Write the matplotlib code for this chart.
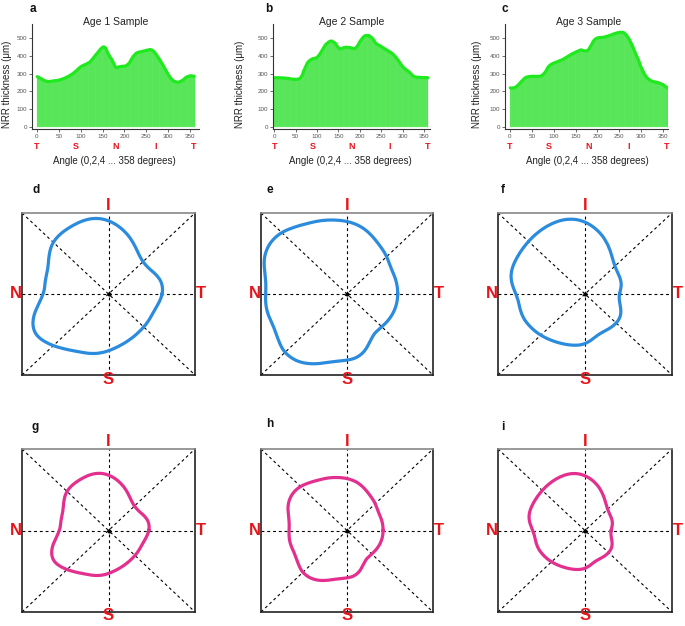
import numpy as np
import matplotlib
matplotlib.use('Agg')
import matplotlib.pyplot as plt
import matplotlib.transforms as mtransforms

plt.rcParams['font.family'] = ['Liberation Sans', 'DejaVu Sans']

# NRR thickness (um) every 2 degrees, 0..358
angles = np.arange(0, 360, 2)

age1 = [283, 281, 278, 275, 272, 270, 267, 264, 261, 259,
        258, 257, 256, 256, 256, 256, 257, 258, 259, 259,
        260, 261, 261, 262, 263, 263, 265, 267, 269, 270,
        272, 274, 276, 279, 281, 283, 286, 289, 292, 295,
        298, 302, 306, 310, 314, 318, 323, 328, 332, 336,
        340, 343, 345, 348, 350, 352, 354, 357, 360, 362,
        365, 370, 376, 382, 389, 395, 401, 407, 413, 419,
        425, 431, 437, 442, 447, 450, 451, 448, 444, 435,
        420, 412, 403, 394, 387, 380, 370, 360, 348, 340,
        335, 334, 336, 338, 339, 340, 341, 341, 342, 342,
        342, 344, 347, 351, 355, 360, 368, 377, 386, 394,
        400, 406, 411, 415, 418, 420, 421, 422, 423, 424,
        425, 427, 428, 429, 431, 432, 433, 434, 435, 436,
        434, 432, 429, 424, 419, 413, 406, 399, 392, 384,
        376, 368, 360, 351, 342, 333, 325, 317, 308, 299,
        290, 283, 276, 270, 265, 261, 258, 256, 254, 253,
        252, 252, 253, 255, 258, 260, 263, 267, 272, 276,
        280, 282, 284, 286, 287, 288, 288, 287, 286, 285]

age2 = [277, 277, 277, 277, 277, 277, 277, 276, 276, 276,
        276, 275, 275, 274, 274, 273, 273, 272, 271, 270,
        270, 269, 269, 268, 268, 268, 268, 269, 270, 272,
        276, 282, 290, 302, 316, 326, 337, 348, 358, 366,
        370, 374, 378, 381, 383, 385, 386, 387, 388, 390,
        394, 400, 405, 412, 420, 428, 436, 444, 452, 460,
        466, 470, 474, 478, 481, 483, 484, 483, 480, 477,
        475, 470, 463, 455, 448, 444, 441, 440, 441, 443,
        445, 447, 448, 449, 449, 448, 448, 447, 447, 446,
        444, 443, 442, 441, 442, 446, 452, 458, 466, 476,
        484, 490, 497, 503, 508, 512, 514, 515, 515, 514,
        515, 512, 508, 504, 500, 494, 487, 479, 472, 468,
        465, 462, 460, 457, 454, 451, 448, 445, 442, 439,
        436, 433, 430, 427, 424, 421, 418, 415, 411, 406,
        401, 395, 390, 384, 377, 370, 364, 357, 350, 343,
        337, 332, 328, 324, 320, 317, 314, 310, 305, 300,
        295, 290, 286, 283, 282, 281, 280, 280, 279, 279,
        279, 279, 278, 278, 278, 278, 278, 277, 277, 277]

age3 = [220, 219, 219, 220, 220, 222, 224, 227, 231, 236,
        241, 246, 252, 257, 262, 267, 272, 276, 279, 281,
        282, 283, 284, 284, 285, 285, 285, 285, 285, 285,
        285, 285, 285, 285, 286, 287, 289, 293, 298, 303,
        309, 317, 326, 335, 341, 346, 350, 353, 356, 358,
        360, 362, 364, 366, 368, 370, 372, 374, 376, 378,
        380, 383, 386, 389, 392, 395, 398, 401, 404, 407,
        410, 412, 415, 417, 420, 422, 424, 426, 428, 431,
        433, 434, 432, 430, 429, 428, 428, 429, 431, 434,
        440, 448, 457, 466, 475, 484, 490, 495, 498, 500,
        502, 503, 503, 504, 504, 505, 505, 506, 507, 509,
        510, 511, 513, 515, 516, 518, 520, 522, 524, 525,
        527, 528, 530, 531, 532, 533, 533, 533, 533, 532,
        529, 525, 520, 514, 507, 500, 491, 481, 471, 461,
        449, 437, 426, 414, 402, 391, 380, 367, 352, 338,
        330, 319, 308, 299, 291, 283, 277, 272, 268, 265,
        262, 259, 257, 255, 254, 253, 252, 251, 250, 249,
        247, 245, 243, 241, 239, 236, 232, 228, 224, 220]

samples = [age1, age2, age3]
titles = ['Age 1 Sample', 'Age 2 Sample', 'Age 3 Sample']
sector_names = ['T', 'S', 'N', 'I', 'T']
sector_pos = [0, 90, 180, 270, 358]

W, H = 685, 626
fig = plt.figure(figsize=(W / 100, H / 100), dpi=100)


def rect(l, t, r, b):
    return [l / W, 1 - b / H, (r - l) / W, (b - t) / H]


def circ_smooth(v, n=9):
    # circular moving average, only to soften the drawn profile
    v = np.asarray(v, dtype=float)
    pad = np.concatenate([v[-n:], v, v[:n]])
    k = np.ones(n) / n
    return np.convolve(pad, k, mode='same')[n:-n]


green = '#35e235'
red = '#e8141c'
blue = '#2b8bdc'
pink = '#e3308f'

bar_boxes = [(32, 24, 199, 129), (273, 24, 430, 129), (505, 24, 668, 129)]
bar_xlims = [(-11, 370), (-3, 364), (-11, 361)]
ylabel_x = [7, 240, 477]

for k in range(3):
    ax = fig.add_axes(rect(*bar_boxes[k]))
    ax.bar(angles, samples[k], width=2, align='edge', color=green,
           edgecolor='#8ef08e', linewidth=0.2)
    ax.plot(angles + 1, samples[k], color='#1eea1e', lw=2.3, solid_capstyle='round')
    ax.set_xlim(*bar_xlims[k])
    ax.set_ylim(-12, 580)
    ax.set_xticks(range(0, 351, 50))
    ax.set_yticks(range(0, 501, 100))
    for s in ['top', 'right']:
        ax.spines[s].set_visible(False)
    for s in ['left', 'bottom']:
        ax.spines[s].set_color('#333333')
        ax.spines[s].set_linewidth(0.8)
    ax.tick_params(labelsize=4.5, labelcolor='#555555', length=2, width=0.6,
                   pad=1.5, color='#555555')
    trans = mtransforms.blended_transform_factory(ax.transData, ax.transAxes)
    ax.text(180, 1.02, titles[k], transform=trans, ha='center', va='center',
            fontsize=7.5, color='#222222')
    for name, pos in zip(sector_names, sector_pos):
        ax.text(pos, -0.17, name, transform=trans, ha='center', va='center',
                fontsize=6.5, fontweight='bold', color=red)
    ax.text(178, -0.30, 'Angle (0,2,4 ... 358 degrees)', transform=trans,
            ha='center', va='center', fontsize=7, color='#222222')
    fig.text(ylabel_x[k] / W, 1 - 84 / H, 'NRR thickness (\u03bcm)', rotation=90,
             ha='center', va='center', fontsize=7, color='#222222')

# polar profile boxes (I top, S bottom, N left, T right)
cols = [(22, 195), (261, 433), (498, 672)]
rows = [(213, 375), (449, 612)]
limits = [[455, 470, 560], [605, 660, 740]]
colors = [blue, pink]

for r in range(2):
    for k in range(3):
        l, rr = cols[k]
        t, b = rows[r]
        ax = fig.add_axes(rect(l, t, rr, b))
        L = limits[r][k]
        sm = circ_smooth(samples[k])
        vals = np.append(sm, sm[0])
        th = np.deg2rad(-np.append(angles, 360))
        ax.plot(vals * np.cos(th), vals * np.sin(th), color=colors[r], lw=2.3, zorder=3)
        dash = dict(color='black', lw=0.8, linestyle=(0, (2.6, 2.6)), zorder=2)
        ax.plot([-L, L], [-L, L], **dash)
        ax.plot([-L, L], [L, -L], **dash)
        ax.plot([-L, L], [0, 0], **dash)
        ax.plot([0, 0], [-L, L], **dash)
        ax.plot([0], [0], 'o', color='black', ms=2, zorder=4)
        ax.set_xlim(-L, L)
        ax.set_ylim(-L, L)
        ax.set_xticks([])
        ax.set_yticks([])
        for s in ax.spines.values():
            s.set_linewidth(1.2)
            s.set_color('#222222')
        ax.spines['top'].set_color('#888888')
        lab = dict(fontsize=12, fontweight='bold', color=red)
        hpx = b - t
        wpx = rr - l
        ax.text(0.5, 1.0, 'I', transform=ax.transAxes, ha='center', va='bottom', **lab)
        ax.text(0.5, 3.5 / hpx, 'S', transform=ax.transAxes, ha='center', va='top', **lab)
        ax.text(-0.5 / wpx, 0.5, 'N', transform=ax.transAxes, ha='right', va='center', **lab)
        ax.text(1 + 0.5 / wpx, 0.5, 'T', transform=ax.transAxes, ha='left', va='center', **lab)

panel_labels = [('a', 33, 9), ('b', 269, 9), ('c', 505, 9),
                ('d', 36, 190), ('e', 270, 190), ('f', 503, 190),
                ('g', 35, 427), ('h', 270, 424), ('i', 503, 427)]
for name, x, y in panel_labels:
    fig.text(x / W, 1 - y / H, name, ha='center', va='center',
             fontsize=8.5, fontweight='bold', color='#111111')

fig.savefig('out.png', dpi=100)
